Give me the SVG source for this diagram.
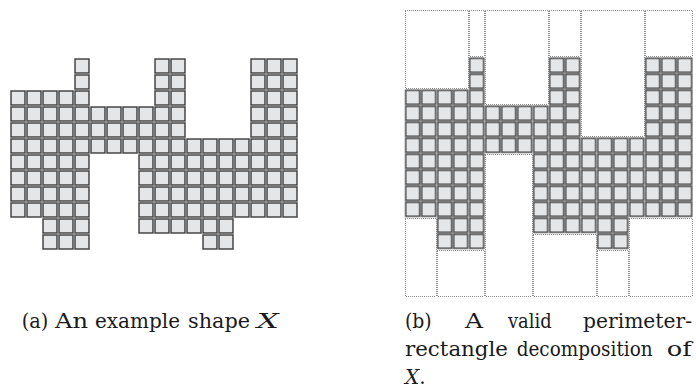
<svg xmlns="http://www.w3.org/2000/svg" xmlns:xlink="http://www.w3.org/1999/xlink" width="696" height="388" viewBox="0 0 696 388">
<style>
text{font-family:'DejaVu Serif','Liberation Serif','Noto Serif',serif;font-size:20px;fill:#1a1a1a}
.it{font-style:italic}
.dr{fill:none;stroke:#8a8a8a;stroke-width:1;stroke-dasharray:1 1;shape-rendering:crispEdges}
</style>
<defs>
<pattern id="cellp" patternUnits="userSpaceOnUse" x="0" y="0" width="16" height="16">
<rect x="0" y="0" width="16" height="16" fill="#b4b4b4"/>
<rect x="1.1" y="1.1" width="13.8" height="13.8" fill="#e5e6e8" stroke="#3a3a3a" stroke-width="1.2"/>
</pattern>
<g id="shape" fill="url(#cellp)">
<rect x="0" y="32" width="32" height="128"/>
<rect x="32" y="32" width="32" height="160"/>
<rect x="64" y="0" width="16" height="192"/>
<rect x="80" y="48" width="48" height="48"/>
<rect x="128" y="48" width="16" height="128"/>
<rect x="144" y="0" width="32" height="176"/>
<rect x="176" y="80" width="16" height="96"/>
<rect x="192" y="80" width="32" height="112"/>
<rect x="224" y="80" width="16" height="80"/>
<rect x="240" y="0" width="48" height="160"/>
</g>
</defs>
<g id="shapeA">
<use href="#shape" xlink:href="#shape" transform="translate(10,58)"/>
</g>
<g id="shapeB" transform="translate(404.7,57.3)">
<use href="#shape" xlink:href="#shape"/>
<g id="decomposition">
<rect class="dr" x="0.7" y="-47.3" width="62.6" height="78.6"/>
<rect class="dr" x="64.7" y="-47.3" width="14.6" height="46.6"/>
<rect class="dr" x="80.7" y="-47.3" width="62.6" height="94.6"/>
<rect class="dr" x="144.7" y="-47.3" width="30.6" height="46.6"/>
<rect class="dr" x="176.7" y="-47.3" width="62.6" height="126.6"/>
<rect class="dr" x="240.7" y="-47.3" width="46.6" height="46.6"/>
<rect class="dr" x="0.7" y="160.7" width="30.6" height="78.6"/>
<rect class="dr" x="32.7" y="192.7" width="46.6" height="46.6"/>
<rect class="dr" x="80.7" y="96.7" width="46.6" height="142.6"/>
<rect class="dr" x="128.7" y="176.7" width="62.6" height="62.6"/>
<rect class="dr" x="192.7" y="192.7" width="30.6" height="46.6"/>
<rect class="dr" x="224.7" y="160.7" width="62.6" height="78.6"/>
</g>
</g>
<g id="captionA">
<text x="21.7" y="327.5" textLength="26.6" lengthAdjust="spacingAndGlyphs">(a)</text>
<text x="55" y="327.5" textLength="33" lengthAdjust="spacingAndGlyphs">An</text>
<text x="95" y="327.5" textLength="85" lengthAdjust="spacingAndGlyphs">example</text>
<text x="188" y="327.5" textLength="62" lengthAdjust="spacingAndGlyphs">shape</text>
<text x="256.7" y="327.5" class="it" textLength="22" lengthAdjust="spacingAndGlyphs">X</text>
</g>
<g id="captionB">
<text x="405" y="327.5" textLength="26.7" lengthAdjust="spacingAndGlyphs">(b)</text>
<text x="465" y="327.5" textLength="18" lengthAdjust="spacingAndGlyphs">A</text>
<text x="508" y="327.5" textLength="43.7" lengthAdjust="spacingAndGlyphs">valid</text>
<text x="583" y="327.5" textLength="109" lengthAdjust="spacingAndGlyphs">perimeter-</text>
<text x="405" y="356.3" textLength="103" lengthAdjust="spacingAndGlyphs">rectangle</text>
<text x="516.7" y="356.3" textLength="136" lengthAdjust="spacingAndGlyphs">decomposition</text>
<text x="666.7" y="356.3" textLength="25" lengthAdjust="spacingAndGlyphs">of</text>
<text x="405" y="384.3"><tspan class="it">X</tspan>.</text>
</g>
</svg>
